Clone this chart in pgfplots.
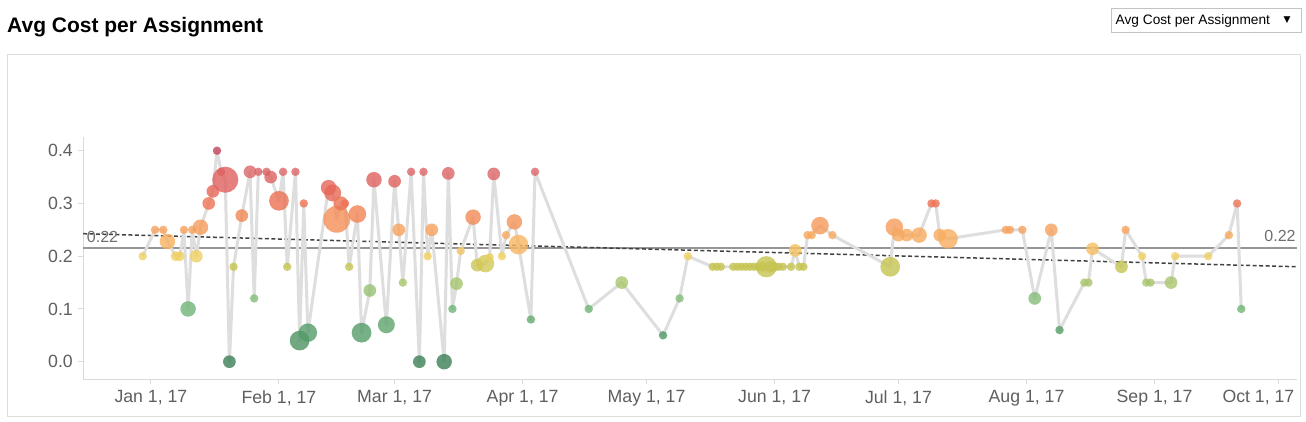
\documentclass[border=0pt]{standalone}
\usepackage{pgfplots}
\pgfplotsset{compat=1.18}
\usepackage{pgfplotstable}
\usepackage{fontspec}
\setmainfont{Liberation Sans}
\newfontfamily\symfont{DejaVu Sans}
\definecolor{tickgray}{RGB}{95,95,95}
\definecolor{axisgray}{RGB}{218,218,218}
\definecolor{framegray}{RGB}{221,221,221}
\definecolor{linkgray}{RGB}{222,222,222}
\definecolor{avggray}{RGB}{150,150,150}
\definecolor{trendgray}{RGB}{65,65,65}
\definecolor{refgray}{RGB}{110,110,110}
\definecolor{ddgray}{RGB}{195,195,195}

\pgfplotstableread{
d v r
-2 0.20 4
1 0.25 4
3 0.25 4
4 0.228 7.3
6 0.20 4.7
7 0.20 4.7
8 0.25 4
9 0.10 7.3
10 0.25 4
11 0.20 6
12 0.255 7.3
14 0.30 6
15 0.323 6
16 0.40 4
17 0.36 4
18 0.345 12.3
19 0.0 6
20 0.18 4
22 0.277 6
24 0.36 6
25 0.12 4
26 0.36 4
28 0.36 4
29 0.35 6
31 0.305 9.3
32 0.36 4
33 0.18 4
35 0.36 4
36 0.04 9.3
37 0.30 4
38 0.055 8.7
43 0.33 7.3
44 0.32 8
45 0.27 12.7
46 0.30 6.7
47 0.30 4
48 0.18 4
50 0.28 8.3
51 0.055 9.3
53 0.135 6
54 0.345 7.3
57 0.07 8
59 0.342 6
60 0.25 6
61 0.15 4
63 0.36 4
65 0.0 6
66 0.36 4
67 0.20 4
68 0.25 6
71 0.0 7.3
72 0.357 6
73 0.10 4
74 0.148 6
75 0.21 4
78 0.274 7.3
79 0.183 6
81 0.186 8.3
82 0.198 4
83 0.356 6
85 0.20 4
86 0.24 4
88 0.265 7.3
89 0.222 9.3
92 0.08 4
93 0.36 4
106 0.10 4
114 0.15 6
124 0.05 4
128 0.12 4
130 0.20 4
136 0.18 4
137 0.18 4
138 0.18 4
141 0.18 4
142 0.18 4
143 0.18 4
144 0.18 4
145 0.18 4
146 0.18 4
147 0.18 4
148 0.18 5
149 0.18 10
150 0.18 5.5
151 0.18 4.5
152 0.18 4
153 0.18 4
155 0.18 4
156 0.211 6
157 0.18 4
158 0.18 4
159 0.24 4
160 0.24 4
162 0.258 8.3
165 0.24 4
179 0.18 9.3
180 0.255 8.3
181 0.24 6
183 0.24 6
186 0.24 7.3
189 0.30 4
190 0.30 4
191 0.24 6
193 0.233 9.3
207 0.25 4
208 0.25 4
211 0.25 4
214 0.12 6
218 0.25 6
220 0.06 4
226 0.15 4
227 0.15 4
228 0.214 6
235 0.18 6
236 0.25 4
240 0.20 4
241 0.15 4
242 0.15 4
247 0.15 6
248 0.20 4
256 0.20 4
261 0.24 4
263 0.30 4
264 0.10 4
}\data

\begin{document}
\begin{tikzpicture}
\path[use as bounding box] (0pt,0pt) rectangle (1306pt,-422pt);
\fill[white] (0pt,0pt) rectangle (1306pt,-422pt);
% frame
\draw[framegray, line width=1pt] (7.5pt,-54.5pt) rectangle (1300.5pt,-416.5pt);
% title
\node[anchor=base west, inner sep=0pt, font=\fontsize{21}{24}\selectfont\bfseries] at (7pt,-33pt) {Avg Cost per Assignment};
% dropdown
\draw[ddgray, line width=1pt] (1111.5pt,-8.5pt) rectangle (1301.5pt,-32.5pt);
\node[anchor=base west, inner sep=0pt, font=\fontsize{13.7}{16}\selectfont] at (1115.5pt,-24.5pt) {Avg Cost per Assignment};
\node[anchor=center, inner sep=0pt, font=\symfont\fontsize{9}{10}\selectfont] at (1287pt,-20pt) {▼};

\begin{axis}[
  at={(83pt,-379pt)}, anchor=south west,
  scale only axis, width=1214pt, height=242pt,
  xmin=-16.45, xmax=277.5,
  ymin=-0.0328, ymax=0.426,
  axis lines*=left,
  axis line style={axisgray, line width=1pt},
  tick align=outside,
  major tick length=5pt,
  tick style={axisgray, line width=1pt},
  xtick={0,31,59,90,120,151,181,212,243,273},
  xticklabels={{Jan 1, 17},{Feb 1, 17},{Mar 1, 17},{Apr 1, 17},{May 1, 17},{Jun 1, 17},{Jul 1, 17},{Aug 1, 17},{Sep 1, 17},{\makebox[0pt][c]{\hspace*{-40pt}Oct 1, 17}}},
  ytick={0,0.1,0.2,0.3,0.4},
  yticklabels={0.0,0.1,0.2,0.3,0.4},
  ticklabel style={font=\fontsize{17.7}{20}\selectfont, text=tickgray, inner sep=0pt},
  xticklabel style={anchor=north, yshift=-6pt},
  yticklabel style={anchor=east, xshift=-5pt},
  colormap={cpa}{
    rgb255(0cm)=(60,128,88);
    rgb255(5cm)=(82,152,102);
    rgb255(10cm)=(112,182,118);
    rgb255(12cm)=(132,188,122);
    rgb255(15cm)=(168,198,108);
    rgb255(18cm)=(198,196,82);
    rgb255(20cm)=(240,208,98);
    rgb255(22cm)=(248,183,98);
    rgb255(25cm)=(247,162,92);
    rgb255(28cm)=(242,132,84);
    rgb255(31cm)=(235,108,84);
    rgb255(34cm)=(225,96,94);
    rgb255(36cm)=(220,102,104);
    rgb255(40cm)=(195,68,94)},
  point meta min=0, point meta max=0.40,
]
% average and trend lines
\addplot[avggray, line width=2pt, forget plot] coordinates {(-16.45,0.215) (277.5,0.215)};
\addplot[trendgray, line width=1.5pt, dash pattern=on 4pt off 2.5pt, forget plot] coordinates {(-16.45,0.2427) (277.5,0.180)};
% connecting line
\addplot[linkgray, line width=3pt, line join=round, forget plot] table[x=d, y=v] {\data};
% bubbles
\addplot[scatter, only marks, mark=*,
  point meta=explicit,
  scatter/use mapped color={draw=mapped color, fill=mapped color, draw opacity=0, fill opacity=0.8},
  visualization depends on={1.06*\thisrow{r} \as \rad},
  scatter/@pre marker code/.append style={/tikz/mark size=\rad}]
  table[x=d, y=v, meta=v] {\data};
\end{axis}

% reference labels
\node[anchor=center, inner sep=0pt, text=refgray, font=\fontsize{16}{18}\selectfont] at (102.5pt,-236.5pt) {0.22};
\node[anchor=center, inner sep=0pt, text=refgray, font=\fontsize{16}{18}\selectfont] at (1280pt,-236pt) {0.22};
\end{tikzpicture}
\end{document}
